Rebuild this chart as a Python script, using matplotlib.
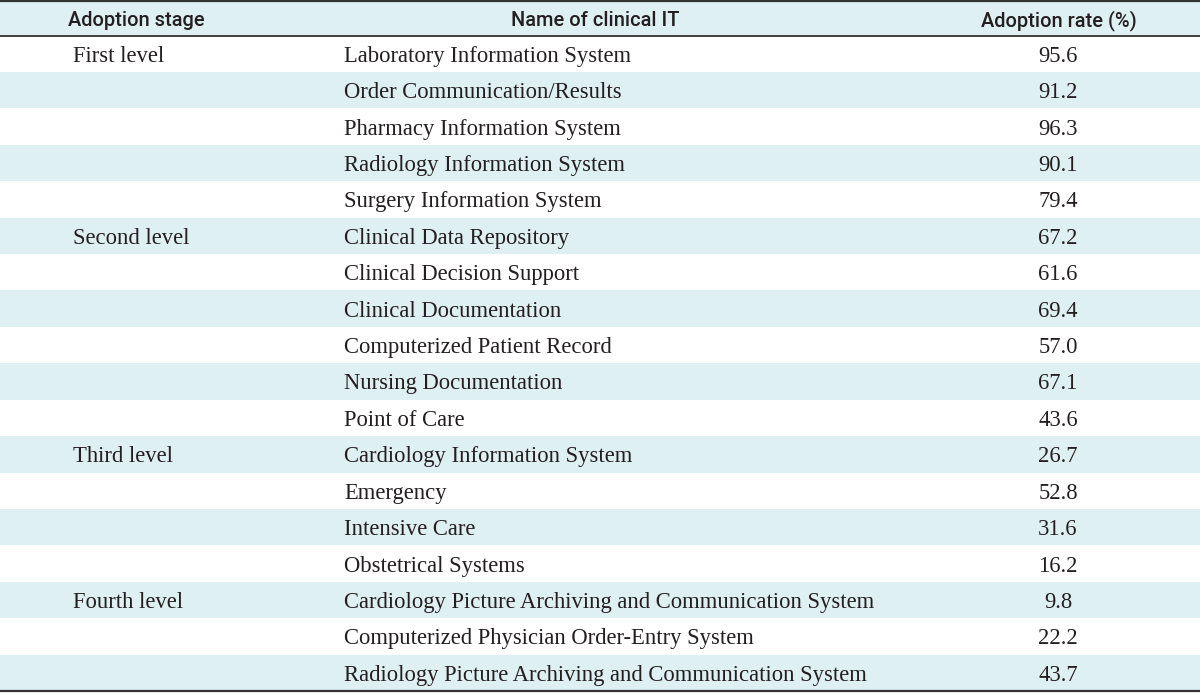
import matplotlib
matplotlib.use("Agg")
import matplotlib.pyplot as plt
from matplotlib.patches import Rectangle

headers = ["Adoption stage", "Name of clinical IT", "Adoption rate (%)"]
stages = ["First level", "", "", "", "",
          "Second level", "", "", "", "", "",
          "Third level", "", "", "",
          "Fourth level", "", ""]
names = ["Laboratory Information System",
         "Order Communication/Results",
         "Pharmacy Information System",
         "Radiology Information System",
         "Surgery Information System",
         "Clinical Data Repository",
         "Clinical Decision Support",
         "Clinical Documentation",
         "Computerized Patient Record",
         "Nursing Documentation",
         "Point of Care",
         "Cardiology Information System",
         "Emergency",
         "Intensive Care",
         "Obstetrical Systems",
         "Cardiology Picture Archiving and Communication System",
         "Computerized Physician Order-Entry System",
         "Radiology Picture Archiving and Communication System"]
rates = [95.6, 91.2, 96.3, 90.1, 79.4,
         67.2, 61.6, 69.4, 57.0, 67.1, 43.6,
         26.7, 52.8, 31.6, 16.2,
         9.8, 22.2, 43.7]

W, H = 1200, 693
stripe = "#dff0f3"
line_c = "#333333"
text_c = "#231f20"

fig = plt.figure(figsize=(W / 100, H / 100), dpi=100)
ax = fig.add_axes([0, 0, 1, 1])
ax.set_xlim(0, W)
ax.set_ylim(H, 0)
ax.axis("off")

top = 1.0
head_h = 34.5
bottom = 691.0
n = len(names)
row_h = (bottom - top - head_h) / n

# header background
ax.add_patch(Rectangle((0, top), W, head_h, facecolor=stripe, edgecolor="none"))
y0 = top + head_h
for i in range(n):
    if i % 2 == 1:
        ax.add_patch(Rectangle((0, y0 + i * row_h), W, row_h, facecolor=stripe, edgecolor="none"))

ax.plot([0, W], [top, top], color=line_c, lw=1.6)
ax.plot([0, W], [y0, y0], color=line_c, lw=1.3)
ax.plot([0, W], [bottom, bottom], color=line_c, lw=1.6)

hfont = dict(family=["Roboto", "DejaVu Sans"], fontsize=14.4, weight="medium", color=text_c)
hy = top + head_h / 2 + 2
ax.text(136, hy, headers[0], ha="center", va="center", **hfont)
ax.text(595, hy, headers[1], ha="center", va="center", **hfont)
ax.text(1059, hy, headers[2], ha="center", va="center", **hfont)

bfont = dict(family=["Liberation Serif", "DejaVu Serif"], fontsize=16.3, color=text_c)
for i in range(n):
    cy = y0 + (i + 0.5) * row_h + 2.5
    if stages[i]:
        ax.text(73, cy, stages[i], ha="left", va="center", **bfont)
    ax.text(344, cy, names[i], ha="left", va="center", **bfont)
    ax.text(1058, cy, f"{rates[i]:.1f}", ha="center", va="center", **bfont)

fig.savefig("out.png", dpi=100)
